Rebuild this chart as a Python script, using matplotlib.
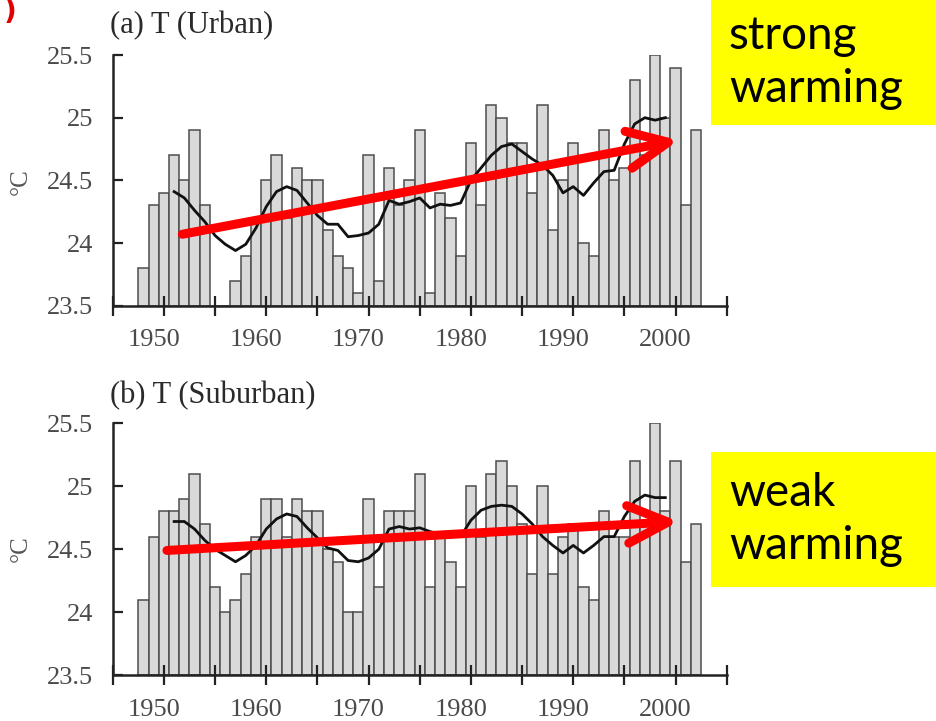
import numpy as np
import matplotlib.pyplot as plt
from matplotlib.patches import Rectangle

years = np.arange(1949, 2004)

urban_t = [23.8, 24.3, 24.4, 24.7, 24.5, 24.9, 24.3, 23.5, 23.5, 23.7,
           23.9, 24.2, 24.5, 24.7, 24.2, 24.6, 24.5, 24.5, 24.1, 23.9,
           23.8, 23.6, 24.7, 23.7, 24.6, 24.3, 24.5, 24.9, 23.6, 24.4,
           24.2, 23.9, 24.8, 24.3, 25.1, 25.0, 24.8, 24.8, 24.4, 25.1,
           24.1, 24.5, 24.8, 24.0, 23.9, 24.9, 24.5, 24.6, 25.3, 24.7,
           25.5, 25.0, 25.4, 24.3, 24.9]

suburban_t = [24.1, 24.6, 24.8, 24.8, 24.9, 25.1, 24.7, 24.2, 24.0, 24.1,
              24.3, 24.6, 24.9, 24.9, 24.6, 24.9, 24.8, 24.8, 24.5, 24.4,
              24.0, 24.0, 24.9, 24.2, 24.8, 24.8, 24.8, 25.1, 24.2, 24.6,
              24.4, 24.2, 25.0, 24.6, 25.1, 25.2, 25.0, 24.7, 24.3, 25.0,
              24.3, 24.6, 24.7, 24.2, 24.1, 24.8, 24.6, 24.6, 25.2, 24.7,
              25.5, 24.8, 25.2, 24.4, 24.7]

# smoothed curves (1952-2000)
smooth_years = np.arange(1952, 2001)
urban_smooth = [24.41, 24.36, 24.26, 24.17, 24.06, 23.99, 23.94, 23.99, 24.12, 24.29,
                24.41, 24.45, 24.42, 24.32, 24.22, 24.15, 24.15, 24.05, 24.06, 24.08,
                24.15, 24.34, 24.31, 24.33, 24.36, 24.28, 24.31, 24.30, 24.32, 24.50,
                24.60, 24.70, 24.77, 24.79, 24.73, 24.67, 24.62, 24.54, 24.40, 24.45,
                24.38, 24.48, 24.57, 24.58, 24.79, 24.95, 25.00, 24.98, 25.00]
suburban_smooth = [24.72, 24.72, 24.66, 24.57, 24.50, 24.45, 24.40, 24.45, 24.53, 24.66,
                   24.74, 24.78, 24.76, 24.67, 24.59, 24.51, 24.49, 24.41, 24.40, 24.43,
                   24.50, 24.66, 24.68, 24.66, 24.67, 24.64, 24.62, 24.60, 24.60, 24.73,
                   24.81, 24.84, 24.85, 24.84, 24.78, 24.70, 24.60, 24.53, 24.47, 24.53,
                   24.47, 24.53, 24.60, 24.60, 24.76, 24.88, 24.93, 24.91, 24.91]

# red trend arrows (start year, start value, end year, end value)
urban_arrow = (1952.8, 24.07, 2001.3, 24.82)
suburban_arrow = (1951.3, 24.49, 2001.3, 24.72)

titles = ["(a) T (Urban)", "(b) T (Suburban)"]
notes = ["strong\nwarming", "weak\nwarming"]

serif = ["Liberation Serif", "DejaVu Serif"]

fig = plt.figure(figsize=(9.37, 7.21), dpi=100, facecolor="w")

def draw_panel(rect, vals, smooth, arrow):
    ax = fig.add_axes(rect)
    ax.bar(years, np.array(vals) - 23.5, bottom=23.5, width=1.0,
           color="#d9d9d9", edgecolor="#4d4d4d", linewidth=1.1)
    ax.plot(smooth_years, smooth, color="#111111", lw=2.0)
    ax.annotate("", xy=(arrow[2], arrow[3]), xytext=(arrow[0], arrow[1]),
                arrowprops=dict(arrowstyle="->,head_length=2.9,head_width=1.35",
                                color="red", lw=6.5, mutation_scale=10,
                                shrinkA=0, shrinkB=0, capstyle="round",
                                joinstyle="round"))
    ax.set_xlim(1946, 2006)
    ax.set_ylim(23.5, 25.5)
    ax.set_yticks([23.5, 24, 24.5, 25, 25.5])
    ax.set_yticklabels(["23.5", "24", "24.5", "25", "25.5"])
    ax.set_xticks(np.arange(1946, 2007, 5))
    ax.set_xticklabels([])
    ax.set_xticks(np.arange(1950, 2001, 10), minor=True)
    ax.set_xticklabels([str(y) for y in range(1950, 2001, 10)], minor=True)
    ax.tick_params(axis="x", which="major", direction="inout", length=14,
                   width=1.6, color="#222222")
    ax.tick_params(axis="x", which="minor", length=0, pad=17)
    ax.tick_params(axis="y", direction="in", length=7, width=1.6,
                   color="#222222", pad=14)
    for lab in ax.get_xticklabels(minor=True) + ax.get_yticklabels():
        lab.set_fontfamily(serif)
        lab.set_fontsize(19)
        lab.set_color("#4a4a4a")
    for s in ["top", "right"]:
        ax.spines[s].set_visible(False)
    for s in ["left", "bottom"]:
        ax.spines[s].set_linewidth(1.8)
        ax.spines[s].set_color("#222222")
    return ax

ax1 = draw_panel([0.1203, 0.576, 0.6553, 0.3477], urban_t, urban_smooth, urban_arrow)
ax2 = draw_panel([0.1203, 0.0638, 0.6553, 0.349], suburban_t, suburban_smooth, suburban_arrow)

fig.text(0.117, 0.965, titles[0], family=serif, fontsize=22, color="#2a2a2a",
         va="center", ha="left")
fig.text(0.117, 0.452, titles[1], family=serif, fontsize=22, color="#2a2a2a",
         va="center", ha="left")
fig.text(0.022, 0.748, "°C", family=serif, fontsize=18, color="#555555",
         rotation=90, va="center", ha="center")
fig.text(0.022, 0.239, "°C", family=serif, fontsize=18, color="#555555",
         rotation=90, va="center", ha="center")

# yellow note boxes
for (y0, h), note in zip([(1 - 125 / 721, 125 / 721), (1 - 587 / 721, 135 / 721)], notes):
    fig.patches.append(Rectangle((711 / 937, y0), 1 - 711 / 937, h,
                                 transform=fig.transFigure, facecolor="#ffff00",
                                 edgecolor="none", zorder=0))
    fig.text(729 / 937, y0 + h / 2, note, family=["Lato", "DejaVu Sans"],
             fontsize=33, color="black", va="center", ha="left",
             linespacing=1.3)

# leftover red bracket at top-left
fig.text(0.004, 0.983, ")", color="#e00000", fontsize=20, fontweight="bold",
         va="center", ha="left", family=["DejaVu Sans"])

fig.savefig("out.png", dpi=100)
